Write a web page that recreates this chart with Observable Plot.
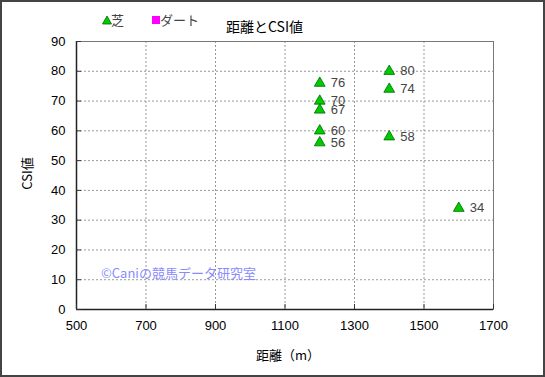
<!DOCTYPE html>
<html><head><meta charset="utf-8">
<script src="https://cdn.jsdelivr.net/npm/d3@7"></script>
<script src="https://cdn.jsdelivr.net/npm/@observablehq/plot@0.6"></script>
<style>
html,body{margin:0;padding:0;background:#fff;}
#wrap{position:relative;width:545px;height:377px;overflow:hidden;font-family:"Liberation Sans","Noto Sans CJK JP",sans-serif;}
#wrap svg.chart{position:absolute;left:0;top:0;}
#border{position:absolute;left:0;top:0;width:545px;height:377px;box-sizing:border-box;border:2px solid #444;pointer-events:none;}
.abs{position:absolute;white-space:nowrap;line-height:1;font-family:"Noto Sans CJK JP","Liberation Sans",sans-serif;}
.abs svg{display:block;}
</style></head>
<body><div id="wrap"><div id="border"></div></div>
<script>
const distances = [1200, 1200, 1200, 1200, 1200, 1400, 1400, 1400, 1600];
const csiValues = [76, 70, 67, 60, 56, 80, 74, 58, 34];
const surfaces = ["芝","芝","芝","芝","芝","芝","芝","芝","芝"];
const xTicks = [500, 700, 900, 1100, 1300, 1500, 1700];
const yTicks = [0, 10, 20, 30, 40, 50, 60, 70, 80, 90];
const legendItems = ["芝", "ダート"];
const titleText = "距離とCSI値";
const xLabel = "距離（m）";
const yLabel = "CSI値";
const watermark = "©Caniの競馬データ研究室";

const data = distances.map((d, i) => ({x: d, y: csiValues[i], s: surfaces[i]}));

const chart = Plot.plot({
  width: 545, height: 377,
  marginLeft: 76, marginRight: 52, marginTop: 41, marginBottom: 68,
  className: "chart",
  style: {fontFamily: "Liberation Sans, sans-serif", fontSize: "13px", color: "#000", background: "transparent"},
  x: {domain: [500, 1700], ticks: xTicks, label: null, tickFormat: "d"},
  y: {domain: [0, 90], ticks: yTicks, label: null, tickFormat: "d"},
  marks: [
    Plot.gridX(xTicks.slice(1, -1), {stroke: "#999", strokeOpacity: 1, strokeDasharray: "2,2"}),
    Plot.gridY(yTicks.slice(1, -1), {stroke: "#999", strokeOpacity: 1, strokeDasharray: "2,2"}),
    Plot.frame({stroke: "#777"}),
    Plot.ruleX([500], {stroke: "#222", strokeWidth: 1.5}),
    Plot.ruleY([0], {stroke: "#222", strokeWidth: 1.5}),
    Plot.axisX({ticks: xTicks, tickFormat: "d", tickSize: -5, tickPadding: 16, stroke: "#333", fill: "#000", fontSize: 13, label: null}),
    Plot.axisY({ticks: yTicks, tickFormat: "d", tickSize: -5, tickPadding: 16, stroke: "#333", fill: "#000", fontSize: 13, label: null}),
    Plot.dot(data, {x: "x", y: "y", symbol: "triangle", r: 4, fill: "#00cc00", stroke: "#006600", strokeWidth: 0.8}),
    Plot.text(data, {x: "x", y: "y", text: d => String(d.y), dx: 11, textAnchor: "start", fill: "#444", fontSize: 13})
  ]
});
const wrap = document.getElementById("wrap");
wrap.insertBefore(chart, wrap.firstChild);

function addText(txt, left, top, size, color, extra) {
  const el = document.createElement("div");
  el.className = "abs";
  el.textContent = txt;
  el.style.left = left + "px"; el.style.top = top + "px";
  el.style.fontSize = size + "px"; el.style.color = color;
  if (extra) Object.assign(el.style, extra);
  wrap.appendChild(el);
  return el;
}
// legend
const tri = document.createElement("div");
tri.className = "abs";
tri.innerHTML = '<svg width="10" height="10"><polygon points="5,1 9.5,9 0.5,9" fill="#00cc00" stroke="#006600" stroke-width="0.8"/></svg>';
tri.style.left = "102px"; tri.style.top = "15px";
wrap.appendChild(tri);
addText(legendItems[0], 111, 13, 13, "#444");
const sq = document.createElement("div");
sq.className = "abs";
sq.style.cssText += "left:152px;top:16px;width:8px;height:8px;background:#ff00ff;";
wrap.appendChild(sq);
addText(legendItems[1], 160, 13, 13, "#444");
addText(titleText, 226, 19, 14, "#000");
addText(yLabel, 10, 167, 13, "#000", {transform: "rotate(-90deg)", transformOrigin: "center"});
addText(xLabel, 256, 348, 13, "#000");
addText(watermark, 101, 266, 13, "#8a8aff");
</script></body></html>
